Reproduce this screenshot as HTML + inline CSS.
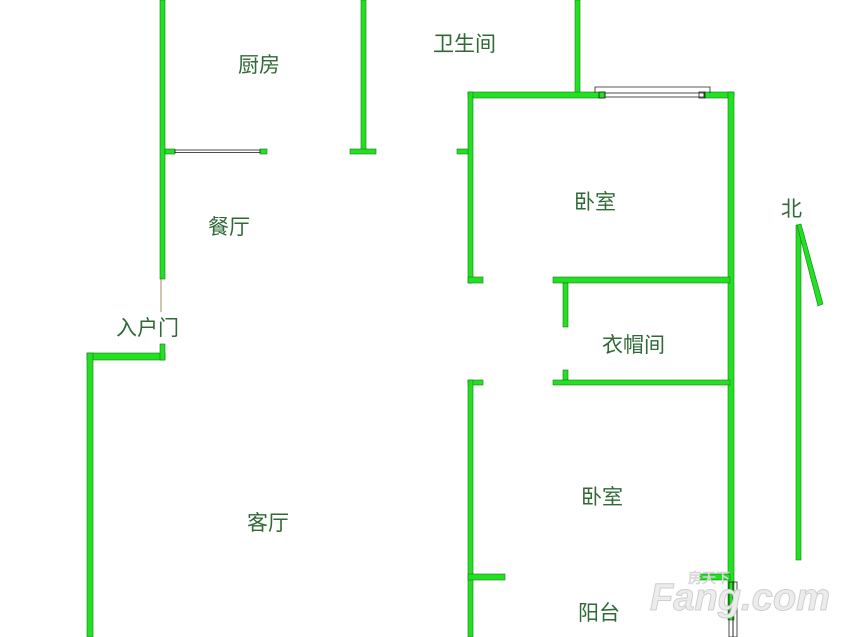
<!DOCTYPE html>
<html><head><meta charset="utf-8"><style>
html,body{margin:0;padding:0;background:#fff;}
svg{display:block}
text{font-family:"Liberation Sans","Noto Sans CJK SC",sans-serif;font-size:21px;fill:#2f6a36;}
</style></head><body>
<svg width="847" height="637" viewBox="0 0 847 637" xmlns="http://www.w3.org/2000/svg">
<g fill="#22e022" stroke="#1a7a1a" stroke-width="0.6">
<rect x="160" y="0" width="5" height="279"/>
<rect x="165" y="149" width="10" height="5"/>
<rect x="260" y="149" width="7" height="5"/>
<rect x="361" y="0" width="5" height="151"/>
<rect x="350" y="149" width="26" height="5"/>
<rect x="575" y="0" width="5" height="95"/>
<rect x="468" y="92" width="137" height="6"/>
<rect x="704" y="92" width="30" height="6"/>
<rect x="468" y="92" width="5" height="191"/>
<rect x="457" y="149" width="11" height="5"/>
<rect x="468" y="277" width="15" height="6"/>
<rect x="728" y="92" width="6" height="528"/>
<rect x="553" y="277" width="177" height="6"/>
<rect x="563" y="283" width="5" height="44"/>
<rect x="563" y="370" width="5" height="10"/>
<rect x="553" y="380" width="177" height="5"/>
<rect x="468" y="380" width="15" height="5"/>
<rect x="468" y="380" width="5" height="257"/>
<rect x="468" y="574" width="37" height="6"/>
<rect x="700" y="574" width="30" height="6"/>
<rect x="87" y="353" width="78" height="7"/>
<rect x="87" y="353" width="6" height="284"/>
<rect x="160" y="344" width="5" height="16"/>
<rect x="796" y="225" width="5" height="335"/>
<polygon points="797,225 801,224 823,304 818,306"/>
</g>
<g fill="none" stroke="#222" stroke-width="0.8">
<rect x="175" y="150" width="85" height="2.5"/>
<rect x="605" y="93" width="99" height="4"/>
<polyline points="595,93 595,87 710,87 710,93"/>
<rect x="599" y="92" width="6" height="6"/>
<rect x="699" y="92" width="6" height="6"/>
<rect x="729" y="582" width="4" height="55"/>
<rect x="733" y="582" width="4" height="55"/>
</g>
<line x1="161" y1="279" x2="161" y2="312" stroke="#8a6a3a" stroke-width="0.8"/>
<text x="238" y="72">厨房</text>
<text x="433" y="51">卫生间</text>
<text x="208" y="234">餐厅</text>
<text x="116" y="335">入户门</text>
<text x="574" y="209">卧室</text>
<text x="602" y="352">衣帽间</text>
<text x="581" y="504">卧室</text>
<text x="247" y="530">客厅</text>
<text x="578" y="620">阳台</text>
<text x="781" y="216">北</text>
<text x="688" y="583" style="font-size:14px;fill:#e8e8e8;stroke:#ccc;stroke-width:0.5">房天下</text>
<text x="650" y="610" textLength="180" lengthAdjust="spacingAndGlyphs" style="font-size:38px;font-weight:bold;font-style:italic;fill:#ececec;stroke:#cfcfcf;stroke-width:1">Fang.com</text>
</svg>
</body></html>
